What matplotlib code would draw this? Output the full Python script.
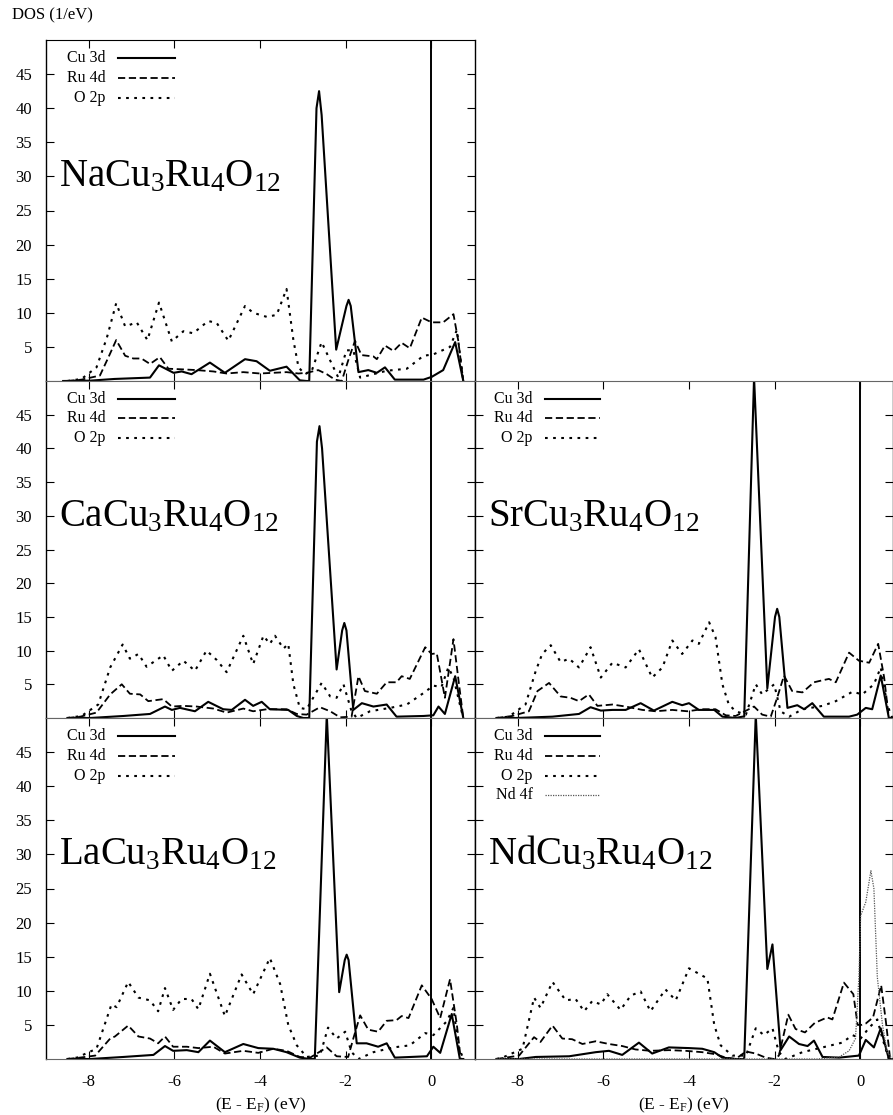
import matplotlib
matplotlib.use("Agg")
import matplotlib.pyplot as plt

plt.rcParams["font.family"] = ["Liberation Serif", "DejaVu Serif"]
plt.rcParams["mathtext.fontset"] = "custom"
plt.rcParams["mathtext.rm"] = "Liberation Serif"
plt.rcParams["mathtext.it"] = "Liberation Serif:italic"
plt.rcParams["axes.unicode_minus"] = False

# ---- data: energies (eV) and DOS (1/eV) ----
# NaCu3Ru4O12
na_cu_e = [-8.6, -7.97, -7.4, -6.57, -6.36, -6.02, -5.83, -5.6, -5.17, -4.82, -4.35, -4.08, -3.77, -3.38,
           -3.07, -2.91, -2.85, -2.68, -2.62, -2.56, -2.22, -1.98, -1.93, -1.88, -1.70, -1.47, -1.27, -1.08,
           -0.85, -0.18, 0.01, 0.28, 0.56, 0.75]
na_cu = [0, 0.05, 0.3, 0.5, 2.3, 1.2, 1.4, 1.0, 2.7, 1.2, 3.2, 2.9, 1.5, 2.1,
         0.1, 0, 0, 40.0, 42.5, 39.0, 4.6, 11.0, 11.9, 11.0, 1.3, 1.6, 1.2, 2.0,
         0.2, 0.2, 0.6, 1.6, 5.7, 0]
na_ru_e = [-8.5, -8.17, -7.74, -7.54, -7.36, -7.15, -6.96, -6.77, -6.57, -6.34, -6.14, -5.79, -5.48, -5.09,
           -4.78, -4.39, -4.0, -3.69, -3.38, -3.10, -2.91, -2.64, -2.44, -2.25, -2.09, -1.94, -1.78, -1.63,
           -1.35, -1.27, -1.08, -0.88, -0.69, -0.50, -0.22, 0.01, 0.28, 0.52, 0.63, 0.75]
na_ru = [0, 0.2, 0.8, 3.5, 6.0, 3.7, 3.3, 3.3, 2.5, 3.5, 1.8, 1.7, 1.6, 1.4,
         1.1, 1.3, 1.1, 1.2, 1.3, 1.1, 1.2, 1.6, 1.0, 0.2, 0.0, 3.0, 5.9, 3.8,
         3.6, 3.2, 5.2, 4.4, 5.6, 4.8, 9.3, 8.6, 8.6, 9.8, 6.0, 0]
na_o_e = [-8.5, -8.17, -7.82, -7.58, -7.36, -7.15, -6.88, -6.63, -6.36, -6.06, -5.79, -5.56, -5.21, -5.01,
          -4.74, -4.35, -4.16, -3.84, -3.61, -3.38, -3.22, -3.10, -2.95, -2.79, -2.56, -2.36, -2.17, -1.98,
          -1.82, -1.66, -1.35, -1.04, -0.57, -0.18, 0.05, 0.44, 0.60, 0.71, 0.75]
na_o = [0, 0.3, 2.0, 6.3, 11.4, 8.0, 8.6, 6.0, 11.5, 5.8, 7.3, 7.0, 8.8, 8.5,
        5.9, 11.0, 10.0, 9.4, 9.7, 13.5, 6.0, 2.0, 1.0, 1.5, 5.7, 3.0, 0.5, 4.5,
        4.5, 0.5, 1.0, 1.5, 1.8, 3.7, 3.9, 5.0, 7.5, 2.0, 0]

# CaCu3Ru4O12
ca_cu_e = [-8.5, -7.97, -7.19, -6.57, -6.22, -6.06, -5.87, -5.52, -5.21, -4.86, -4.66, -4.35, -4.16, -3.96,
           -3.77, -3.34, -3.14, -2.99, -2.85, -2.67, -2.61, -2.55, -2.21, -2.08, -2.03, -1.98, -1.82, -1.62,
           -1.35, -1.04, -0.81, -0.18, 0.05, 0.17, 0.32, 0.56, 0.75]
ca_cu = [0, 0, 0.3, 0.6, 1.7, 1.2, 1.5, 1.0, 2.4, 1.3, 1.2, 2.7, 1.8, 2.4,
         1.3, 1.2, 0.3, 0, 0, 41.0, 43.3, 40.0, 7.2, 13.0, 14.1, 13.0, 1.2, 2.2,
         1.7, 2.0, 0.2, 0.3, 0.4, 1.7, 0.6, 6.2, 0]
ca_ru_e = [-8.5, -8.2, -7.82, -7.5, -7.23, -7.04, -6.8, -6.61, -6.26, -6.06, -5.79, -5.48, -5.09, -4.78,
           -4.39, -4.16, -3.84, -3.38, -3.14, -2.91, -2.6, -2.36, -2.13, -1.86, -1.7, -1.55, -1.27, -1.04,
           -0.81, -0.69, -0.5, -0.14, 0.01, 0.13, 0.32, 0.52, 0.63, 0.75]
ca_ru = [0, 0.2, 0.8, 3.5, 5.0, 3.6, 3.5, 2.5, 2.8, 1.7, 1.8, 1.7, 1.4, 0.8,
         1.4, 1.0, 1.3, 1.3, 0.6, 0.5, 1.6, 1.0, 0.1, 0.2, 6.2, 4.0, 3.6, 5.3,
         5.3, 6.2, 5.8, 10.5, 9.5, 9.6, 3.0, 11.7, 6.0, 0]
ca_o_e = [-8.5, -8.17, -7.78, -7.5, -7.21, -7.04, -6.84, -6.65, -6.26, -6.06, -5.79, -5.52, -5.25, -5.01,
          -4.78, -4.39, -4.16, -3.92, -3.77, -3.65, -3.45, -3.34, -3.22, -3.07, -2.91, -2.56, -2.36, -2.21,
          -2.05, -1.86, -1.74, -1.43, -0.96, -0.57, -0.18, 0.05, 0.24, 0.4, 0.52, 0.67, 0.75]
ca_o = [0, 0.3, 2.0, 7.5, 10.9, 8.8, 9.5, 7.6, 9.3, 7.0, 8.5, 7.0, 10.0, 8.6,
        6.8, 12.2, 8.0, 12.2, 11.0, 12.2, 10.3, 11.0, 5.0, 1.5, 1.3, 5.2, 3.2, 3.0,
        5.0, 1.0, 0.0, 1.0, 1.5, 2.0, 3.7, 4.8, 4.6, 7.5, 6.0, 2.0, 0]

# SrCu3Ru4O12
sr_cu_e = [-8.5, -8.05, -7.19, -6.57, -6.3, -6.06, -5.79, -5.48, -5.13, -4.82, -4.39, -4.16, -4.0, -3.77,
           -3.41, -3.22, -2.91, -2.75, -2.71, -2.48, -2.17, -1.99, -1.94, -1.89, -1.70, -1.47, -1.31, -1.12,
           -0.85, -0.26, -0.07, 0.13, 0.28, 0.48, 0.67, 0.75]
sr_cu = [0, 0, 0.2, 0.6, 1.6, 1.1, 1.2, 1.2, 2.2, 1.1, 2.4, 1.9, 2.2, 1.2,
         1.2, 0.2, 0, 0.2, 0.2, 50.5, 4.4, 15.0, 16.2, 15.0, 1.5, 1.9, 1.3, 2.2,
         0.2, 0.2, 0.5, 1.5, 1.3, 6.3, 0, 0]
sr_ru_e = [-8.5, -8.13, -7.74, -7.54, -7.27, -7.0, -6.77, -6.57, -6.34, -6.14, -5.79, -5.48, -5.09, -4.78,
           -4.39, -4.04, -3.69, -3.38, -3.14, -2.91, -2.48, -2.29, -2.09, -1.94, -1.78, -1.59, -1.35, -1.08,
           -0.88, -0.73, -0.57, -0.26, -0.03, 0.21, 0.42, 0.56, 0.67, 0.75]
sr_ru = [0, 0.3, 1.0, 4.0, 5.2, 3.2, 3.0, 2.5, 3.5, 1.8, 2.0, 1.7, 1.2, 1.0,
         1.2, 1.0, 1.3, 1.3, 0.4, 0.3, 1.7, 0.5, 0.2, 3.0, 6.3, 4.0, 3.8, 5.3,
         5.6, 5.8, 5.3, 9.7, 8.5, 8.2, 11.0, 6.0, 0, 0]
sr_o_e = [-8.5, -8.21, -7.82, -7.58, -7.43, -7.23, -7.0, -6.8, -6.57, -6.3, -6.06, -5.79, -5.48, -5.17,
          -4.86, -4.62, -4.39, -4.16, -3.92, -3.77, -3.53, -3.38, -3.22, -3.07, -2.91, -2.67, -2.44, -2.29,
          -2.01, -1.86, -1.66, -1.35, -0.88, -0.57, -0.18, 0.05, 0.32, 0.48, 0.63, 0.75]
sr_o = [0, 0.2, 2.0, 7.0, 9.5, 10.8, 8.3, 8.8, 7.5, 10.5, 6.0, 8.2, 7.5, 10.2,
        6.0, 7.5, 11.5, 9.5, 11.5, 11.0, 14.2, 12.0, 5.0, 2.0, 1.0, 0.5, 5.0, 3.5,
        5.0, 1.0, 0.2, 1.3, 1.8, 2.5, 3.9, 3.5, 5.0, 7.5, 2.0, 0]

# LaCu3Ru4O12
la_cu_e = [-8.5, -7.97, -7.19, -6.49, -6.22, -6.03, -5.71, -5.44, -5.17, -4.82, -4.39, -4.04, -3.69, -3.38,
           -3.07, -2.83, -2.72, -2.44, -2.15, -2.02, -1.975, -1.93, -1.74, -1.51, -1.24, -1.04, -0.85, -0.1,
           0.05, 0.21, 0.48, 0.67, 0.75]
la_cu = [0, 0, 0.3, 0.6, 1.9, 1.2, 1.3, 1.0, 2.7, 1.0, 2.2, 1.6, 1.5, 1.0,
         0.2, 0, 0, 50.5, 9.8, 14.5, 15.3, 14.5, 2.3, 2.3, 1.8, 2.3, 0.2, 0.4,
         1.8, 0.9, 6.6, 0, 0]
la_ru_e = [-8.5, -8.21, -7.85, -7.5, -7.39, -7.08, -6.84, -6.57, -6.38, -6.22, -6.03, -5.71, -5.44, -5.09,
           -4.82, -4.39, -4.04, -3.69, -3.38, -3.07, -2.83, -2.44, -2.21, -1.94, -1.82, -1.66, -1.47, -1.24,
           -1.04, -0.81, -0.69, -0.53, -0.22, 0.01, 0.21, 0.44, 0.6, 0.69, 0.75]
la_ru = [0, 0.2, 0.5, 3.0, 3.3, 4.9, 3.3, 3.0, 2.3, 3.3, 1.8, 1.8, 1.6, 1.8,
         0.8, 1.2, 0.9, 1.5, 1.2, 0.3, 0.2, 1.7, 0.4, 0.3, 3.0, 6.4, 4.3, 4.0,
         5.6, 5.7, 6.3, 6.0, 10.8, 8.8, 6.0, 11.7, 5.0, 0, 0]
la_o_e = [-8.5, -8.28, -7.82, -7.47, -7.35, -7.08, -6.84, -6.57, -6.38, -6.22, -6.03, -5.83, -5.6, -5.44,
          -5.17, -4.82, -4.43, -4.16, -3.77, -3.53, -3.34, -3.14, -2.91, -2.6, -2.41, -2.21, -2.01, -1.86,
          -1.7, -1.35, -0.88, -0.5, -0.14, 0.05, 0.36, 0.52, 0.63, 0.75]
la_o = [0, 0.2, 1.5, 8.0, 7.6, 11.3, 9.0, 8.6, 7.0, 10.4, 7.2, 8.8, 8.8, 7.3,
        12.5, 6.3, 12.4, 9.5, 14.8, 11.0, 5.0, 2.0, 0.3, 0.5, 4.6, 3.0, 4.0, 1.0,
        0.0, 1.0, 1.7, 2.0, 3.8, 3.5, 5.5, 7.5, 2.0, 0]

# NdCu3Ru4O12
nd_cu_e = [-8.5, -7.97, -7.58, -6.8, -6.49, -6.18, -5.87, -5.56, -5.17, -4.86, -4.47, -4.0, -3.69, -3.41,
           -3.22, -2.91, -2.71, -2.44, -2.17, -2.05, -1.86, -1.66, -1.43, -1.23, -1.08, -0.88, -0.49, -0.03,
           0.13, 0.32, 0.48, 0.67, 0.75]
nd_cu = [0, 0, 0.3, 0.4, 0.7, 1.0, 1.2, 0.6, 2.4, 0.8, 1.7, 1.6, 1.5, 1.0,
         0.2, 0, 0, 50.5, 13.2, 16.8, 1.3, 3.3, 2.2, 1.9, 2.7, 0.3, 0.2, 0.5,
         2.8, 1.7, 4.5, 0, 0]
nd_ru_e = [-8.5, -8.28, -7.97, -7.62, -7.47, -7.19, -6.96, -6.73, -6.49, -6.18, -5.87, -5.56, -5.25, -4.9,
           -4.47, -4.08, -3.69, -3.38, -3.14, -2.91, -2.67, -2.44, -2.21, -2.01, -1.9, -1.68, -1.51, -1.29,
           -1.06, -0.77, -0.65, -0.38, -0.16, -0.06, 0.03, 0.13, 0.3, 0.49, 0.6, 0.7, 0.75]
nd_ru = [0, 0.2, 0.5, 3.2, 2.5, 4.9, 3.0, 2.9, 2.2, 2.6, 2.2, 1.9, 1.4, 1.2,
         1.3, 1.2, 1.0, 0.7, 0.2, 0, 1.1, 0.8, 0.2, 0, 0.5, 6.5, 4.4, 3.9,
         5.3, 6.1, 5.8, 11.2, 9.5, 5.0, 5.0, 5.2, 6.1, 10.8, 5.5, 0, 0]
nd_o_e = [-8.5, -8.36, -7.89, -7.62, -7.47, -7.19, -6.88, -6.65, -6.45, -6.26, -6.06, -5.91, -5.6, -5.36,
          -5.13, -4.9, -4.55, -4.31, -4.0, -3.77, -3.57, -3.41, -3.26, -2.99, -2.67, -2.44, -2.25, -2.05,
          -1.9, -1.74, -1.35, -0.88, -0.42, -0.18, 0.01, 0.21, 0.4, 0.52, 0.67, 0.75]
nd_o = [0, 0.2, 1.5, 9.0, 7.5, 11.3, 8.6, 8.8, 7.0, 8.5, 8.0, 9.5, 7.2, 9.3,
        9.9, 7.0, 10.2, 8.6, 13.3, 12.5, 11.8, 5.0, 2.0, 0.5, 0.5, 4.5, 3.5, 4.5,
        1.0, 0.0, 1.0, 1.7, 2.4, 3.5, 3.0, 4.6, 5.8, 3.0, 0, 0]
nd_f_e = [-8.5, -1.0, -0.49, -0.26, -0.11, -0.03, 0.01, 0.13, 0.25, 0.32, 0.40, 0.52, 0.63, 0.75]
nd_f = [0, 0, 0.3, 1.2, 3.0, 12.0, 21.0, 23.0, 27.6, 25.0, 12.0, 5.0, 1.0, 0]

labels = ["Cu 3d", "Ru 4d", "O 2p", "Nd 4f"]
styles = [
    dict(color="black", lw=1.5, ls="-"),
    dict(color="black", lw=1.3, ls=(0, (4, 2))),
    dict(color="black", lw=1.5, ls=(0, (1.3, 2.6))),
    dict(color="#555555", lw=0.9, ls=(0, (1, 1))),
]

panels = [
    # name, row, col, series
    (r"NaCu$_\mathrm{3}$Ru$_\mathrm{4}$O$_\mathrm{12}$", 0, 0,
     [(na_cu_e, na_cu), (na_ru_e, na_ru), (na_o_e, na_o)]),
    (r"CaCu$_\mathrm{3}$Ru$_\mathrm{4}$O$_\mathrm{12}$", 1, 0,
     [(ca_cu_e, ca_cu), (ca_ru_e, ca_ru), (ca_o_e, ca_o)]),
    (r"SrCu$_\mathrm{3}$Ru$_\mathrm{4}$O$_\mathrm{12}$", 1, 1,
     [(sr_cu_e, sr_cu), (sr_ru_e, sr_ru), (sr_o_e, sr_o)]),
    (r"LaCu$_\mathrm{3}$Ru$_\mathrm{4}$O$_\mathrm{12}$", 2, 0,
     [(la_cu_e, la_cu), (la_ru_e, la_ru), (la_o_e, la_o)]),
    (r"NdCu$_\mathrm{3}$Ru$_\mathrm{4}$O$_\mathrm{12}$", 2, 1,
     [(nd_cu_e, nd_cu), (nd_ru_e, nd_ru), (nd_o_e, nd_o), (nd_f_e, nd_f)]),
]

W, H = 893, 1115
fig = plt.figure(figsize=(W / 100, H / 100), dpi=100)

row_px = [(40, 381), (381, 718), (718, 1059)]
col_px = [(46, 475), (475, 893)]
px_per_ev = 42.8

for name, r, c, series in panels:
    top, bot = row_px[r]
    x0, x1 = col_px[c]
    ax = fig.add_axes([x0 / W, 1 - bot / H, (x1 - x0) / W, (bot - top) / H])
    xmax = -9 + (x1 - x0) / px_per_ev

    ax.axvline(0, color="black", lw=1.4, zorder=1)
    for (e, v), st in zip(series, styles):
        ax.plot(e, v, clip_on=True, zorder=2, **st)

    ax.set_xlim(-9, xmax)
    ax.set_ylim(0, 50)
    ax.set_xticks([-8, -6, -4, -2, 0])
    ax.set_yticks([5, 10, 15, 20, 25, 30, 35, 40, 45])
    ax.tick_params(direction="in", length=6, width=0.8, top=True, right=True, labelsize=12)
    ax.tick_params(axis="x", pad=11)
    ax.tick_params(axis="y", pad=10)
    ax.tick_params(labelleft=(c == 0), labelbottom=(r == 2))
    for side in ["left", "right"]:
        ax.spines[side].set_linewidth(1.0)
    for side in ["top", "bottom"]:
        ax.spines[side].set_linewidth(0.8)
        ax.spines[side].set_color("#666666" if not (r == 0 and side == "top") else "black")
    if r == 2:
        ax.set_xlabel(r"(E - E$_\mathrm{F}$) (eV)", fontsize=12.5, labelpad=4)

    # gnuplot-style key: right aligned text followed by a line sample
    for i in range(len(series)):
        y = 0.947 - i * 0.058
        ax.text(0.138, y, labels[i], transform=ax.transAxes, ha="right", va="center", fontsize=11.5)
        ax.plot([0.168, 0.30], [y, y], transform=ax.transAxes, **styles[i])

    ax.text(0.03, 0.57, name, transform=ax.transAxes, fontsize=28, ha="left", va="baseline")

fig.text(12 / W, 1 - 15 / H, "DOS (1/eV)", fontsize=12, ha="left", va="center")

fig.savefig("out.png", dpi=100)
